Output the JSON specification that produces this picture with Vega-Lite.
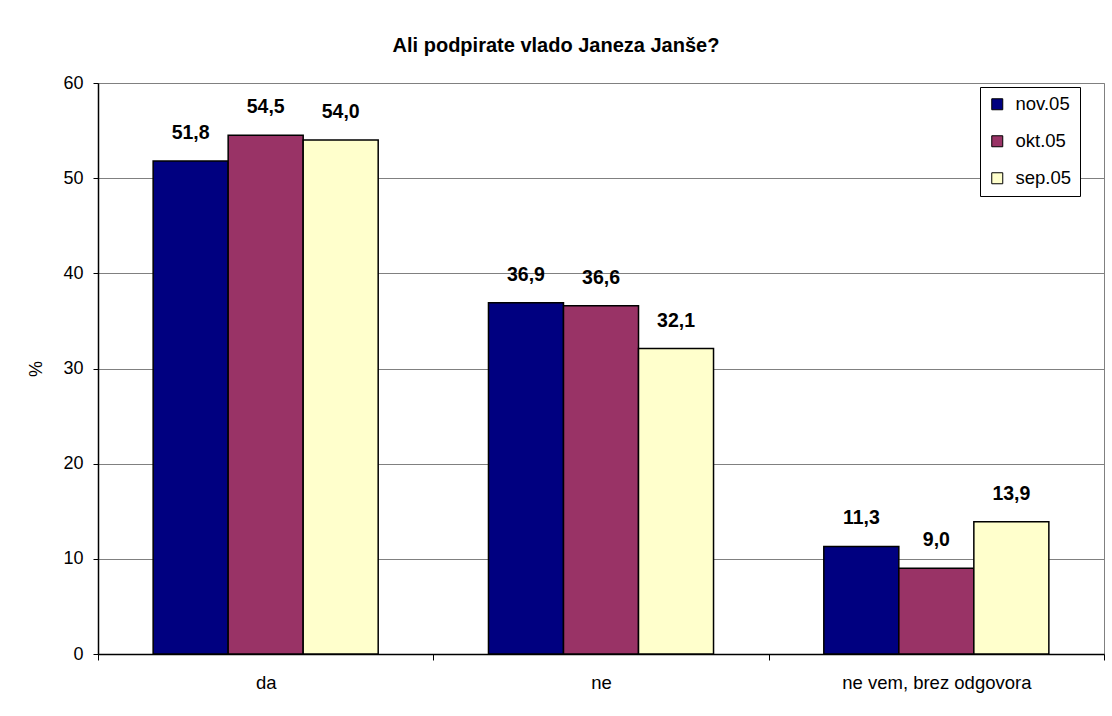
{
  "$schema": "https://vega.github.io/schema/vega-lite/v6.json",
  "autosize": {"type": "none"},
  "padding": {"left": 98, "top": 83, "right": 8, "bottom": 62},
  "width": 1006,
  "height": 571,
  "background": "white",
  "config": {
    "font": "Liberation Sans",
    "view": {"stroke": "#808080", "strokeWidth": 1},
    "locale": {"number": {"decimal": ",", "thousands": ".", "grouping": [3], "currency": ["", " €"]}}
  },
  "title": {
    "text": "Ali podpirate vlado Janeza Janše?",
    "fontSize": 20,
    "fontWeight": "bold",
    "color": "black",
    "anchor": "middle",
    "dx": -45,
    "offset": 18
  },
  "data": {
    "values": [
      {"category": "da", "series": "nov.05", "value": 51.8},
      {"category": "da", "series": "okt.05", "value": 54.5},
      {"category": "da", "series": "sep.05", "value": 54.0},
      {"category": "ne", "series": "nov.05", "value": 36.9},
      {"category": "ne", "series": "okt.05", "value": 36.6},
      {"category": "ne", "series": "sep.05", "value": 32.1},
      {"category": "ne vem, brez odgovora", "series": "nov.05", "value": 11.3},
      {"category": "ne vem, brez odgovora", "series": "okt.05", "value": 9.0},
      {"category": "ne vem, brez odgovora", "series": "sep.05", "value": 13.9}
    ]
  },
  "encoding": {
    "x": {
      "field": "category",
      "type": "nominal",
      "sort": ["da", "ne", "ne vem, brez odgovora"],
      "scale": {"paddingInner": 0, "paddingOuter": 0},
      "axis": {
        "title": null,
        "labelAngle": 0,
        "labelFontSize": 18.5,
        "labelColor": "black",
        "labelPadding": 13,
        "labelLimit": 0,
        "tickBand": "extent",
        "tickSize": 6,
        "tickColor": "black",
        "domainColor": "black",
        "domainWidth": 1.5,
        "grid": false
      }
    },
    "xOffset": {
      "field": "series",
      "type": "nominal",
      "sort": ["nov.05", "okt.05", "sep.05"],
      "scale": {"paddingInner": 0, "paddingOuter": 0.735}
    },
    "y": {
      "field": "value",
      "type": "quantitative",
      "scale": {"domain": [0, 60], "nice": false},
      "axis": {
        "title": "%",
        "titleFontSize": 18,
        "titleFontWeight": "normal",
        "titleColor": "black",
        "titlePadding": 17,
        "values": [0, 10, 20, 30, 40, 50, 60],
        "format": "d",
        "labelFontSize": 18,
        "labelColor": "black",
        "labelPadding": 10,
        "tickSize": 5,
        "tickColor": "black",
        "domainColor": "black",
        "domainWidth": 1.5,
        "grid": true,
        "gridColor": "#808080",
        "gridWidth": 1
      }
    }
  },
  "layer": [
    {
      "mark": {"type": "bar", "stroke": "black", "strokeWidth": 1.5},
      "encoding": {
        "color": {
          "field": "series",
          "type": "nominal",
          "sort": ["nov.05", "okt.05", "sep.05"],
          "scale": {"domain": ["nov.05", "okt.05", "sep.05"], "range": ["#000080", "#993366", "#FFFFCC"]},
          "legend": {
            "title": null,
            "orient": "none",
            "legendX": 882,
            "legendY": 4,
            "strokeColor": "black",
            "fillColor": "white",
            "padding": 8,
            "symbolType": "square",
            "symbolSize": 121,
            "symbolStrokeColor": "black",
            "symbolStrokeWidth": 1,
            "symbolOpacity": 1,
            "labelFontSize": 18.5,
            "labelColor": "black",
            "rowPadding": 18,
            "labelOffset": 9
          }
        }
      }
    },
    {
      "mark": {"type": "text", "fontSize": 19.5, "fontWeight": "bold", "color": "black", "baseline": "middle", "dy": -28},
      "encoding": {
        "text": {"field": "value", "type": "quantitative", "format": ".1f"}
      }
    }
  ]
}
